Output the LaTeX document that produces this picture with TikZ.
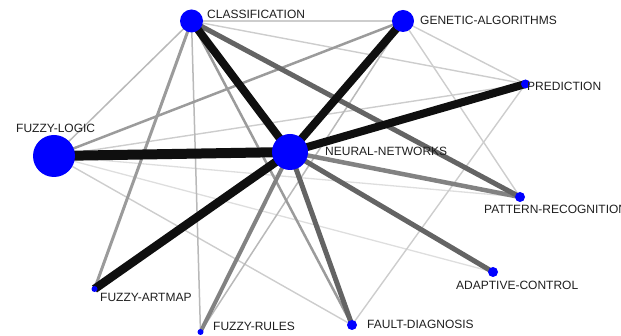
\documentclass[tikz,border=0pt]{standalone}
\usepackage{fontspec}
\setmainfont{Liberation Sans}
\usetikzlibrary{backgrounds}
\definecolor{vblue}{RGB}{0,0,255}
\definecolor{eblack}{RGB}{15,15,15}
\definecolor{edark}{RGB}{100,100,100}
\definecolor{emid}{RGB}{130,130,130}
\definecolor{egray}{RGB}{155,155,155}
\definecolor{elight}{RGB}{185,185,185}
\definecolor{epale}{RGB}{205,205,205}
\definecolor{efaint}{RGB}{222,222,222}
\definecolor{ltext}{RGB}{30,30,30}
\tikzset{
  vert/.style={circle, fill=vblue, inner sep=0pt, minimum size=#1},
  lbl/.style={anchor=west, inner sep=0pt, text=ltext, font=\fontsize{12}{13}\selectfont},
  wblack/.style={draw=eblack, line width=#1},
  wdark/.style={draw=edark, line width=#1},
  wmid/.style={draw=emid, line width=#1},
  wgray/.style={draw=egray, line width=#1},
  wlight/.style={draw=elight, line width=1.5pt},
  wpale/.style={draw=epale, line width=1.4pt},
  wfaint/.style={draw=efaint, line width=1.3pt},
}
\begin{document}
\begin{tikzpicture}[x=1pt,y=-1pt]
\useasboundingbox (0,0) rectangle (621,336);
\clip (0,0) rectangle (621,336);
% nodes
\node[vert=42pt] (FL) at (54,156) {};
\node[vert=36pt] (NN) at (290,152) {};
\node[vert=23pt] (CL) at (191.5,21) {};
\node[vert=22pt] (GA) at (403,21) {};
\node[vert=9pt] (PRED) at (525.5,84) {};
\node[vert=10pt] (PR) at (520,197) {};
\node[vert=10pt] (AC) at (493,272) {};
\node[vert=10pt] (FD) at (352,325) {};
\node[vert=6pt] (FA) at (94.5,289) {};
\node[vert=6pt] (FR) at (200.5,332) {};
% labels
\node[lbl] (tCL) at (207,14) {CLASSIFICATION};
\node[lbl] (tGA) at (420,20) {GENETIC-ALGORITHMS};
\node[lbl] (tPRED) at (527,86) {PREDICTION};
\node[lbl] (tFL) at (16,128) {FUZZY-LOGIC};
\node[lbl] (tNN) at (325,151) {NEURAL-NETWORKS};
\node[lbl] (tPR) at (484,209) {PATTERN-RECOGNITION};
\node[lbl] (tAC) at (456,285) {ADAPTIVE-CONTROL};
\node[lbl] (tFA) at (100,297) {FUZZY-ARTMAP};
\node[lbl] (tFR) at (213,326) {FUZZY-RULES};
\node[lbl] (tFD) at (367,324) {FAULT-DIAGNOSIS};
\begin{pgfonlayer}{background}
% faint / light edges
\draw[wfaint] (FL.center) -- (PR.center);
\draw[wfaint] (FL.center) -- (AC.center);
\draw[wpale] (FL.center) -- (PRED.center);
\draw[wpale] (FL.center) -- (FD.center);
\draw[wpale] (CL.center) -- (GA.center);
\draw[wpale] (CL.center) -- (PRED.center);
\draw[wpale] (GA.center) -- (PRED.center);
\draw[wpale] (GA.center) -- (PR.center);
\draw[wpale] (PRED.center) -- (FD.center);
\draw[wlight] (FL.center) -- (CL.center);
\draw[wlight] (CL.center) -- (FR.center);
\draw[wlight] (GA.center) -- (FR.center);
% gray edges
\draw[wgray=2.5pt] (FL.center) -- (GA.center);
\draw[wgray=2.5pt] (CL.center) -- (FD.center);
\draw[wgray=3pt] (CL.center) -- (FA.center);
\draw[wmid=4pt] (NN.center) -- (FR.center);
\draw[wmid=4.5pt] (NN.center) -- (PR.center);
\draw[wdark=5pt] (CL.center) -- (PR.center);
\draw[wdark=5pt] (NN.center) -- (AC.center);
\draw[wdark=5pt] (NN.center) -- (FD.center);
% black edges
\draw[wblack=8pt] (CL.center) -- (NN.center);
\draw[wblack=8pt] (GA.center) -- (NN.center);
\draw[wblack=8pt] (PRED.center) -- (NN.center);
\draw[wblack=8.5pt] (FA.center) -- (NN.center);
\draw[wblack=10pt] (FL.center) -- (NN.center);
\end{pgfonlayer}
\end{tikzpicture}
\end{document}
